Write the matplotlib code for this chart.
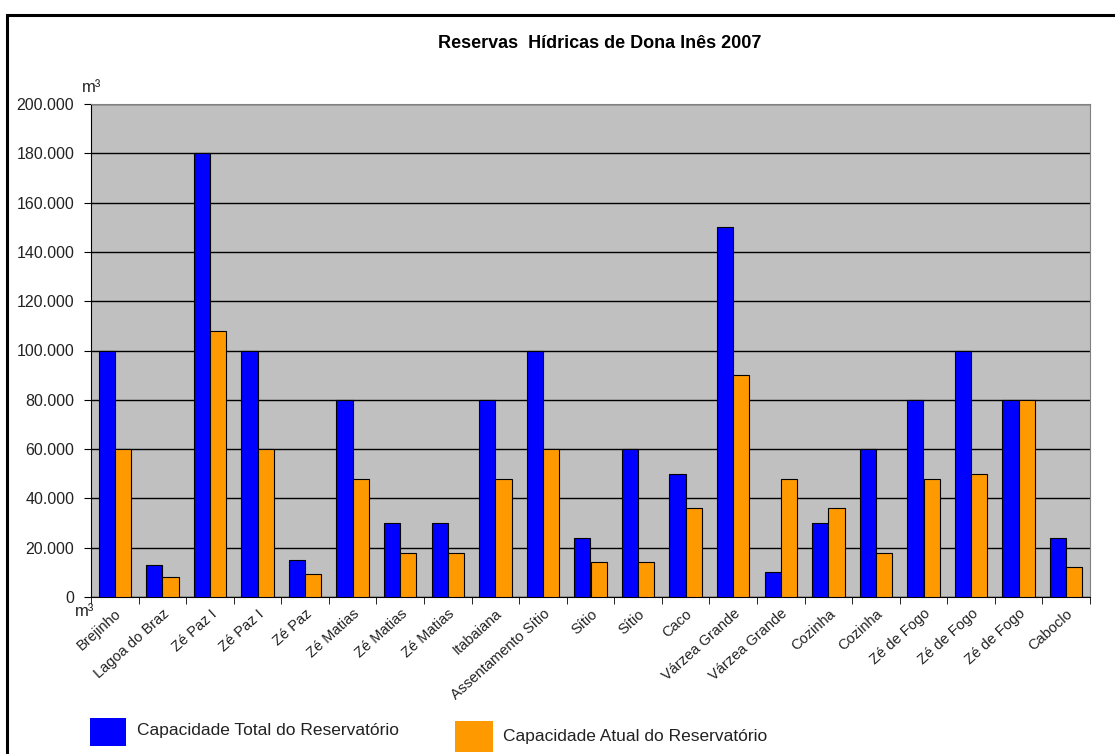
import matplotlib
matplotlib.use("Agg")
import matplotlib.pyplot as plt
import numpy as np
from matplotlib.patches import Rectangle
from matplotlib.ticker import FuncFormatter

plt.rcParams['font.family'] = ['Liberation Sans', 'DejaVu Sans']

categories = ["Brejinho", "Lagoa do Braz", "Zé Paz I", "Zé Paz I", "Zé Paz",
              "Zé Matias", "Zé Matias", "Zé Matias", "Itabaiana", "Assentamento Sítio",
              "Sítio", "Sítio", "Caco", "Várzea Grande", "Várzea Grande",
              "Cozinha", "Cozinha", "Zé de Fogo", "Zé de Fogo", "Zé de Fogo", "Caboclo"]
capacidade_total = [100000, 13000, 180000, 100000, 15000,
                    80000, 30000, 30000, 80000, 100000,
                    24000, 60000, 50000, 150000, 10000,
                    30000, 60000, 80000, 100000, 80000, 24000]
capacidade_atual = [60000, 8000, 108000, 60000, 9500,
                    48000, 18000, 18000, 48000, 60000,
                    14400, 14400, 36000, 90000, 48000,
                    36000, 18000, 48000, 50000, 80000, 12000]
yticks = [0, 20000, 40000, 60000, 80000, 100000, 120000, 140000, 160000, 180000, 200000]

W, H = 1115, 754
fig = plt.figure(figsize=(W / 100, H / 100), dpi=100)
fig.patch.set_facecolor('white')

# outer frame
fig.patches.append(Rectangle((7 / W, -0.01), 1.02, 1 - 15 / H + 0.01, transform=fig.transFigure,
                             fill=False, edgecolor='black', linewidth=2.2))

left, right, top, bottom = 91, 1090, 104, 597
ax = fig.add_axes([left / W, 1 - bottom / H, (right - left) / W, (bottom - top) / H])
ax.set_facecolor('#C0C0C0')

x = np.arange(len(categories))
bw = 0.34
ax.bar(x - bw / 2, capacidade_total, width=bw, color='#0000FF', edgecolor='black', linewidth=0.8,
       label='Capacidade Total do Reservatório', zorder=3)
ax.bar(x + bw / 2, capacidade_atual, width=bw, color='#FF9900', edgecolor='black', linewidth=0.8,
       label='Capacidade Atual do Reservatório', zorder=3)

ax.set_xlim(-0.5, len(categories) - 0.5)
ax.set_ylim(0, 200000)
ax.set_yticks(yticks)
ax.yaxis.set_major_formatter(FuncFormatter(lambda v, p: f"{int(v):,}".replace(",", ".")))
ax.grid(axis='y', color='black', linewidth=1, zorder=1)
ax.tick_params(axis='y', labelsize=11.5, length=5, direction='out', colors='black', pad=7,
               labelcolor='#222222')

ax.set_xticks(x)
ax.set_xticklabels(categories, rotation=42, ha='right', rotation_mode='anchor', fontsize=10.5,
                   color='#222222')
ax.tick_params(axis='x', length=0, pad=7)
ax.set_xticks(np.arange(-0.5, len(categories) + 0.5, 1), minor=True)
ax.tick_params(axis='x', which='minor', length=5, direction='out')

for s in ['top', 'right']:
    ax.spines[s].set_color('#808080')
ax.spines['left'].set_color('black')
ax.spines['bottom'].set_color('black')

fig.text(600 / W, 1 - 43 / H, 'Reservas  Hídricas de Dona Inês 2007', ha='center', va='center',
         fontsize=13, fontweight='bold')
fig.text(82 / W, 1 - 88 / H, 'm³', ha='left', va='center', fontsize=12, color='#222222')
fig.text(75 / W, 1 - 611 / H, 'm³', ha='left', va='center', fontsize=12, color='#222222')

# legend
fig.patches.append(Rectangle((90 / W, 1 - 746 / H), 36 / W, 28 / H, transform=fig.transFigure,
                             facecolor='#0000FF', edgecolor='none'))
fig.text(137 / W, 1 - 731 / H, 'Capacidade Total do Reservatório', ha='left', va='center',
         fontsize=12.5, color='#222222')
fig.patches.append(Rectangle((455 / W, 1 - 752 / H), 38 / W, 31 / H, transform=fig.transFigure,
                             facecolor='#FF9900', edgecolor='none'))
fig.text(503 / W, 1 - 736 / H, 'Capacidade Atual do Reservatório', ha='left', va='center',
         fontsize=12.5, color='#222222')

fig.savefig('out.png', dpi=100)
